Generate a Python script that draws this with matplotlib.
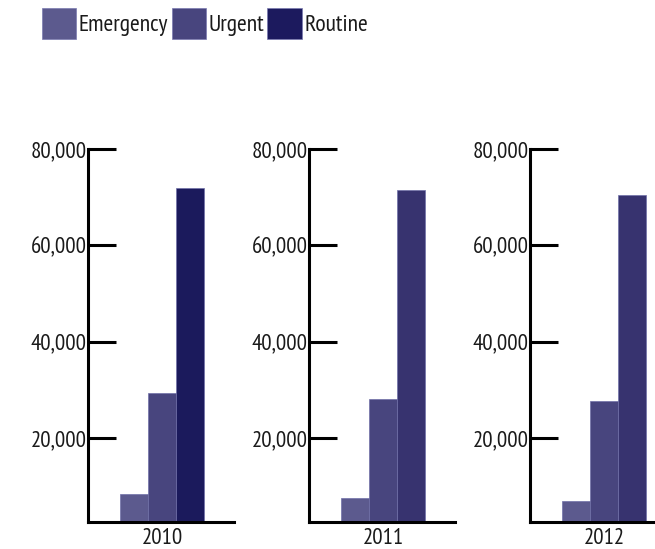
import matplotlib
matplotlib.use("Agg")
import matplotlib.pyplot as plt
from matplotlib.patches import Patch

plt.rcParams['font.family'] = ['PT Sans Narrow', 'Roboto Condensed', 'DejaVu Sans']

# DATA

years = ["2010", "2011", "2012"]
categories = ["Emergency", "Urgent", "Routine"]
emergency = [8400, 7450, 6900]
urgent = [29400, 28200, 27600]
routine = [71800, 71450, 70400]
yticks = [20000, 40000, 60000, 80000]
ytick_labels = ["20,000", "40,000", "60,000", "80,000"]

# STYLE

W, H = 655, 549
emerg_col = "#5c5a8e"
urgent_col = "#48457e"
routine_cols = ["#1b1a5c", "#37336f", "#37336f"]
legend_cols = ["#5c5a8e", "#48457e", "#1c1a5e"]
text_col = "#1a1a1a"

fig = plt.figure(figsize=(W / 100, H / 100), dpi=100)

# panel geometry in pixels
axis_x = [88, 309, 530]
top_px, base_px = 149, 522
panel_w = 146
bar_w_px = 28
bar_off_px = 32

# y limits: 80,000 at top, baseline sits a bit above zero
px_per_20k = (438 - 149) / 3
ybottom = 20000 - (base_px - 438) / px_per_20k * 20000

xl = -0.5 - bar_off_px / bar_w_px
xr = -0.5 + (panel_w - bar_off_px) / bar_w_px

for i, yr in enumerate(years):
    ax = fig.add_axes([axis_x[i] / W, 1 - base_px / H,
                       panel_w / W, (base_px - top_px) / H])
    vals = [emergency[i], urgent[i], routine[i]]
    cols = [emerg_col, urgent_col, routine_cols[i]]
    ax.bar([0, 1, 2], vals, width=1.0, color=cols,
           edgecolor="#7070a8", linewidth=0.5, bottom=0)
    ax.set_xlim(xl, xr)
    ax.set_ylim(ybottom, 80000)
    ax.set_yticks(yticks)
    ax.set_yticklabels(ytick_labels)
    ax.set_xticks([1])
    ax.set_xticklabels([yr])
    for s in ["top", "right"]:
        ax.spines[s].set_visible(False)
    for s in ["left", "bottom"]:
        ax.spines[s].set_linewidth(2.2)
        ax.spines[s].set_color("black")
        ax.spines[s].set_clip_on(False)
    ax.tick_params(axis="y", direction="in", length=20, width=2.2,
                   color="black", pad=1, labelsize=16.5, labelcolor=text_col)
    ax.tick_params(axis="x", length=0, pad=4.5, labelsize=16.5,
                   labelcolor=text_col)
    ax.patch.set_visible(False)

handles = [Patch(facecolor=c, edgecolor="#7a7ab0", linewidth=0.5)
           for c in legend_cols]
fig.legend(handles, categories, loc="upper left",
           bbox_to_anchor=(42 / W, 1 - 8 / H), ncol=3, frameon=False,
           fontsize=17, handlelength=1.45, handleheight=1.65,
           handletextpad=0.1, columnspacing=0.15, borderpad=0,
           borderaxespad=0, labelcolor=text_col)

fig.savefig("out.png", dpi=100)
